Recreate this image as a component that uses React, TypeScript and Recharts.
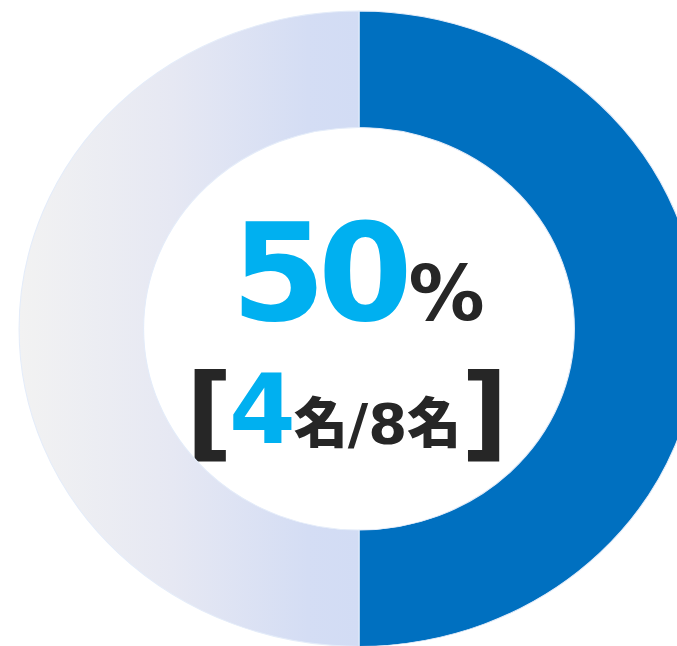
import React from 'react';
import { PieChart, Pie, Cell, Sector } from 'recharts';

const categories = ['該当', '非該当'];
const counts = [4, 4];
const total = 8;
const percentLabel = '50';
const sliceFills = ['#0070c0', 'url(#leftGrad)'];

const data = categories.map((name, i) => ({ name, value: counts[i] }));

const W = 677;
const H = 646;
const CX = 359;
const CY = 328.7;
const SX = 1.07;

const EllipseSector = (props: any) => {
  const { cx, cy } = props;
  return (
    <g transform={`translate(${cx},${cy}) scale(${SX},1) translate(${-cx},${-cy})`}>
      <Sector {...props} />
    </g>
  );
};

export default function App() {
  const font = '"DejaVu Sans", "Noto Sans CJK JP", sans-serif';
  const cjk = '"Noto Sans CJK JP", sans-serif';
  return (
    <div style={{ position: 'absolute', left: 0, top: 0, width: W, height: H, background: '#ffffff' }}>
      <PieChart width={W} height={H} margin={{ top: 0, right: 0, bottom: 0, left: 0 }}>
        <defs>
          <linearGradient id="leftGrad" x1="0" y1="0" x2="1" y2="0">
            <stop offset="0%" stopColor="#f2f2f2" />
            <stop offset="45%" stopColor="#e6e8f3" />
            <stop offset="85%" stopColor="#d4ddf4" />
            <stop offset="100%" stopColor="#d2dcf4" />
          </linearGradient>
        </defs>
        <Pie
          data={data}
          dataKey="value"
          nameKey="name"
          cx={CX}
          cy={CY}
          innerRadius={201.3}
          outerRadius={317.7}
          startAngle={90}
          endAngle={-270}
          stroke="#e4ecf9"
          strokeWidth={1}
          isAnimationActive={false}
          shape={EllipseSector}
        >
          {data.map((d, i) => (
            <Cell key={d.name} fill={sliceFills[i]} />
          ))}
        </Pie>
        <text x={358} y={320} textAnchor="middle" fontFamily={font} fontWeight="bold">
          <tspan fontSize={136} fill="#00b0f0" letterSpacing={-8}>{percentLabel}</tspan>
          <tspan fontSize={76} fill="#262626" dx={4}>%</tspan>
        </text>
        <text x={347} y={443} textAnchor="middle" fontFamily={font} fontWeight="bold" fill="#262626">
          <tspan fontSize={103} dy={5}>[</tspan>
          <tspan fontSize={96} dy={-5} dx={-4} fill="#00b0f0">{counts[0]}</tspan>
          <tspan fontSize={54} fontFamily={cjk} fontWeight={900} dx={-2}>名</tspan>
          <tspan fontSize={56}>/{total}</tspan>
          <tspan fontSize={54} fontFamily={cjk} fontWeight={900}>名</tspan>
          <tspan fontSize={103} dy={5}>]</tspan>
        </text>
      </PieChart>
    </div>
  );
}
